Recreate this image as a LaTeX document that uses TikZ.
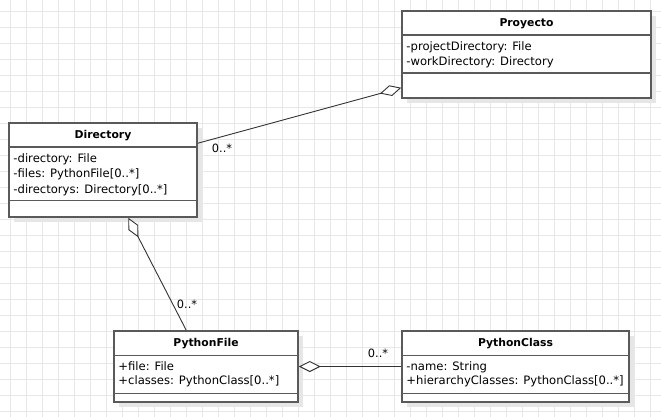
\documentclass[tikz,border=0pt]{standalone}
\usepackage{fontspec}
\setmainfont{DejaVu Sans}
\usetikzlibrary{arrows.meta,calc,shadows}
\definecolor{boxc}{HTML}{5A5A5A}
\definecolor{linec}{HTML}{333333}
\definecolor{gridc}{HTML}{E8E8E8}
\definecolor{shadc}{HTML}{E6E6E6}
\begin{document}
\begin{tikzpicture}[x=1pt,y=-1pt,
  cls/.style={draw=boxc, line width=1.5pt, fill=white, rectangle, inner sep=0pt,
    drop shadow={shadow xshift=5pt, shadow yshift=-5pt, fill=shadc, opacity=1}},
  ttl/.style={font=\bfseries\fontsize{10.8}{13}\selectfont, inner sep=0pt},
  attr/.style={font=\fontsize{11.6}{13}\selectfont, anchor=base west, inner sep=0pt},
  sepl/.style={draw=boxc, line width=1.5pt},
  gridl/.style={draw=gridc, line width=0.6pt},
  assoc/.style={draw=linec, line width=0.9pt},
  mult/.style={font=\fontsize{11.4}{13}\selectfont, inner sep=0pt}]
\useasboundingbox (0,0) rectangle (661,417);
\fill[white] (0,0) rectangle (661,417);
\foreach \i in {0,...,40} \draw[gridl] (10.5+16*\i,0) -- (10.5+16*\i,417);
\foreach \j in {0,...,25} \draw[gridl] (0,11.5+16*\j) -- (661,11.5+16*\j);

% Proyecto
\node[cls, minimum width=249pt, minimum height=87pt] (proj) at (526.5,54.5) {};
\draw[sepl] ($(proj.north west)+(0,25)$) -- ($(proj.north east)+(0,25)$);
\draw[sepl] ($(proj.north west)+(0,63)$) -- ($(proj.north east)+(0,63)$);
\node[ttl] (projT) at ($(proj.north)+(0,13.5)$) {Proyecto};
\node[attr] (projA1) at ($(proj.north west)+(5,40)$) {-projectDirectory: File};
\node[attr] (projA2) at ($(proj.north west)+(5,55.5)$) {-workDirectory: Directory};

% Directory
\node[cls, minimum width=188pt, minimum height=94pt] (dir) at (103,170) {};
\draw[sepl] ($(dir.north west)+(0,25)$) -- ($(dir.north east)+(0,25)$);
\draw[sepl] ($(dir.north west)+(0,78)$) -- ($(dir.north east)+(0,78)$);
\node[ttl] (dirT) at ($(dir.north)+(0,13.5)$) {Directory};
\node[attr] (dirA1) at ($(dir.north west)+(5,40)$) {-directory: File};
\node[attr] (dirA2) at ($(dir.north west)+(5,55.5)$) {-files: PythonFile[0..*]};
\node[attr] (dirA3) at ($(dir.north west)+(5,71)$) {-directorys: Directory[0..*]};

% PythonFile
\node[cls, minimum width=184pt, minimum height=71pt] (pf) at (206,366.5) {};
\draw[sepl] ($(pf.north west)+(0,25)$) -- ($(pf.north east)+(0,25)$);
\draw[sepl] ($(pf.north west)+(0,63)$) -- ($(pf.north east)+(0,63)$);
\node[ttl] (pfT) at ($(pf.north)+(0,13.5)$) {PythonFile};
\node[attr] (pfA1) at ($(pf.north west)+(5,40)$) {+file: File};
\node[attr] (pfA2) at ($(pf.north west)+(5,54.5)$) {+classes: PythonClass[0..*]};

% PythonClass
\node[cls, minimum width=227pt, minimum height=71pt] (pc) at (515.5,366.5) {};
\draw[sepl] ($(pc.north west)+(0,25)$) -- ($(pc.north east)+(0,25)$);
\draw[sepl] ($(pc.north west)+(0,63)$) -- ($(pc.north east)+(0,63)$);
\node[ttl] (pcT) at ($(pc.north)+(0,13.5)$) {PythonClass};
\node[attr] (pcA1) at ($(pc.north west)+(5,40)$) {-name: String};
\node[attr] (pcA2) at ($(pc.north west)+(5,54.5)$) {+hierarchyClasses: PythonClass[0..*]};

% connectors
\coordinate (dirR) at ($(dir.north east)+(0,21)$);
\coordinate (projL) at ($(proj.south west)+(0,-11)$);
\draw[assoc, -{Diamond[fill=white, length=22pt, width=11pt]}] (dirR) -- (projL);
\node[mult] (m1) at (222,148) {0..*};

\coordinate (dirB) at ($(dir.south west)+(120,0)$);
\coordinate (pfTop) at ($(pf.north west)+(73,0)$);
\draw[assoc, {Diamond[fill=white, length=22pt, width=11pt]}-] (dirB) -- (pfTop);
\node[mult] (m2) at (187,304) {0..*};

\draw[assoc, {Diamond[fill=white, length=22pt, width=11pt]}-] (pf.east) -- (pc.west);
\node[mult] (m3) at (378,353) {0..*};
\end{tikzpicture}
\end{document}
